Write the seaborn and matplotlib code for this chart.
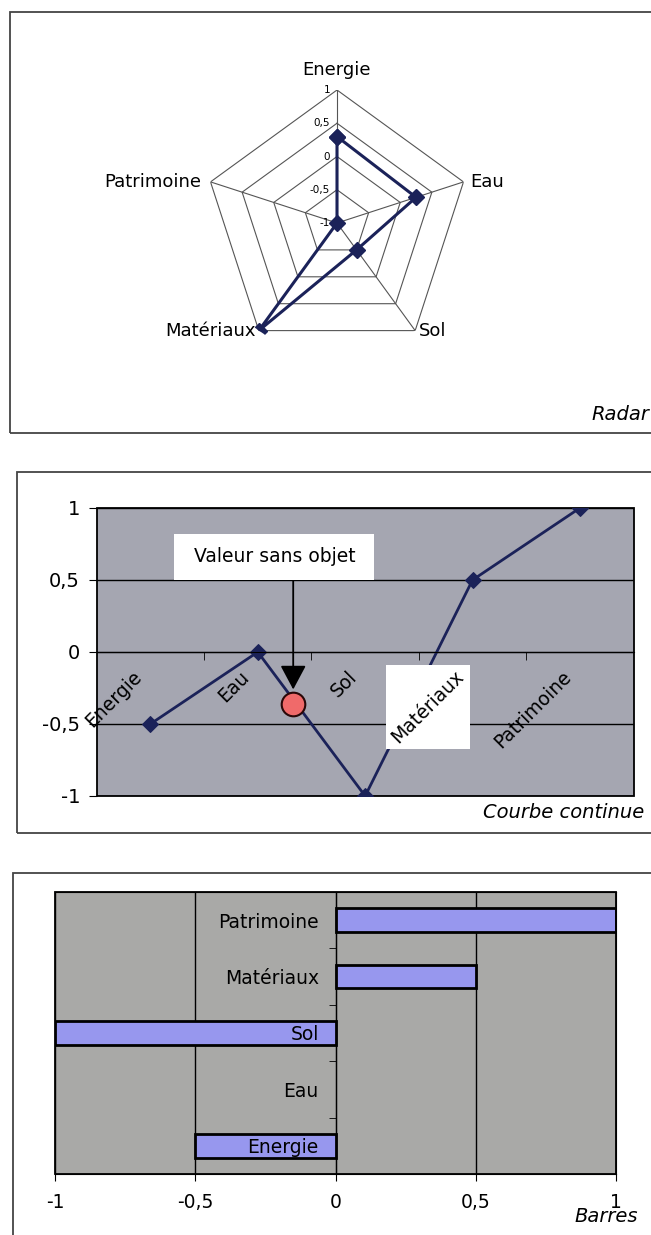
import numpy as np
import pandas as pd
import seaborn as sns
import matplotlib.pyplot as plt
from matplotlib.patches import Rectangle

# données
categories = ['Energie', 'Eau', 'Sol', 'Matériaux', 'Patrimoine']
radar_values = [0.3, 0.25, -0.5, 1, -1]
line_values = [-0.5, 0, -1, 0.5, 1]
bar_values = [-0.5, np.nan, -1, 0.5, 1]   # pas de barre pour Eau
value_ticks = [-1, -0.5, 0, 0.5, 1]
value_tick_labels = ['-1', '-0,5', '0', '0,5', '1']
missing_x, missing_y = 1.33, -0.36        # point "Valeur sans objet"

navy = '#1b2259'
W, H = 651, 1235
plt.rcParams['font.family'] = ['DejaVu Sans']
plt.rcParams['axes.axisbelow'] = False


def px_rect(x0, y0, x1, y1):
    return [x0 / W, 1 - y1 / H, (x1 - x0) / W, (y1 - y0) / H]


def frame(x0, y0, x1, y1):
    fig.add_artist(Rectangle((x0 / W, 1 - y1 / H), (x1 - x0) / W, (y1 - y0) / H,
                             transform=fig.transFigure, fill=False, ec='#444444', lw=1.3))


fig = plt.figure(figsize=(W / 100, H / 100), dpi=100)
frame(10, 12, 700, 433)
frame(17, 472, 700, 833)
frame(13, 873, 700, 1300)

# ---- Radar ----
axr = fig.add_axes(px_rect(337 - 133, 223 - 133, 337 + 133, 223 + 133), projection='polar')
axr.set_theta_offset(np.pi / 2)
axr.set_theta_direction(-1)
axr.set_ylim(-1, 1)
angles = np.linspace(0, 2 * np.pi, len(categories), endpoint=False)
closed = np.append(angles, angles[0])
for r in value_ticks[1:]:
    axr.plot(closed, [r] * len(closed), color='#555555', lw=0.8)
for a in angles:
    axr.plot([a, a], [-1, 1], color='#555555', lw=0.8)
axr.plot(closed, radar_values + radar_values[:1], color=navy, lw=2.2, marker='D', ms=8)
axr.set_xticks([])
axr.set_yticks([])
axr.grid(False)
axr.spines['polar'].set_visible(False)
axr.set_facecolor('none')
label_pos = {'Energie': ((0, 8), 'center', 'bottom'), 'Eau': ((5, 0), 'left', 'center'),
             'Sol': ((3, 0), 'left', 'center'), 'Matériaux': ((-2, 0), 'right', 'center'),
             'Patrimoine': ((-7, 0), 'right', 'center')}
for a, c in zip(angles, categories):
    off, ha, va = label_pos[c]
    axr.annotate(c, (a, 1), xytext=off, textcoords='offset points', ha=ha, va=va, fontsize=13)
for v, lab in zip(value_ticks, value_tick_labels):
    axr.annotate(lab, (0, v), xytext=(-5, 0), textcoords='offset points',
                 ha='right', va='center', fontsize=7.5)
fig.text(649 / W, 1 - 415 / H, 'Radar', ha='right', va='center', fontsize=14, style='italic')

# ---- Courbe continue ----
ax2 = fig.add_axes(px_rect(96.7, 508, 633.6, 796))
ax2.spines['bottom'].set_position(('data', 0))
df_line = pd.DataFrame({'Theme': categories, 'Valeur': line_values})
sns.lineplot(data=df_line, x='Theme', y='Valeur', sort=False, color=navy, lw=2,
             marker='D', ms=8, mec=navy, ax=ax2, zorder=2)
ax2.set_xlim(-0.5, 4.5)
ax2.set_ylim(-1, 1)
ax2.set_facecolor('#a5a6b1')
ax2.set_xlabel('')
ax2.set_ylabel('')
for v in value_ticks:
    ax2.axhline(v, color='black', lw=1, zorder=0.5)
ax2.set_yticks(value_ticks, value_tick_labels)
ax2.tick_params(axis='y', length=6, pad=6, labelsize=14)
ax2.set_xticks(range(len(categories)), [''] * len(categories))
ax2.set_xticks(np.arange(0.5, len(categories) - 1), minor=True)
ax2.tick_params(axis='x', which='major', length=0)
ax2.tick_params(axis='x', which='minor', length=6, direction='out')
for s in ['top', 'right', 'left']:
    ax2.spines[s].set_visible(False)
ax2.add_patch(Rectangle((0, 0), 1, 1, transform=ax2.transAxes, fill=False, ec='black', lw=1.3, clip_on=False))
cat_labels = []
for i, c in enumerate(categories):
    t = ax2.annotate(c, (i, 0), xytext=(-13, -11), textcoords='offset points', rotation=45,
                     rotation_mode='anchor', ha='right', va='top', fontsize=13.5, zorder=5)
    cat_labels.append(t)
ax2.plot([missing_x], [missing_y], 'o', ms=17, mfc='#f06a6a', mec='#2a0808', mew=1.5, zorder=4)
ax2.annotate('', xy=(missing_x, missing_y + 0.1), xytext=(missing_x, 0.5),
             arrowprops=dict(arrowstyle='-|>,head_length=0.75,head_width=0.4', color='black',
                             lw=1.3, mutation_scale=20, shrinkA=0, shrinkB=0), zorder=5)
ax2.text(1.155, 0.66, ' Valeur sans objet ', ha='center', va='center', fontsize=13.5, zorder=5,
         bbox=dict(boxstyle='square,pad=0.7', fc='white', ec='none'))
fig.text(644 / W, 1 - 813 / H, 'Courbe continue', ha='right', va='center', fontsize=14, style='italic')

# ---- Barres ----
ax3 = fig.add_axes(px_rect(55, 892, 616, 1174))
ax3.spines['left'].set_position(('data', 0))
df_bar = pd.DataFrame({'Theme': categories, 'Valeur': bar_values})
sns.barplot(data=df_bar, x='Valeur', y='Theme', order=categories[::-1], orient='h', width=0.42,
            color='#9797ee', saturation=1, edgecolor='black', linewidth=2, errorbar=None, ax=ax3)
ax3.set_xlim(-1, 1)
ax3.set_ylim(len(categories) - 0.5, -0.5)
ax3.set_facecolor('#a9a9a7')
ax3.set_xlabel('')
ax3.set_ylabel('')
for v in value_ticks:
    ax3.axvline(v, color='black', lw=1, zorder=0.5)
ax3.set_xticks(value_ticks, value_tick_labels)
ax3.tick_params(axis='x', length=5, pad=9, labelsize=13.5)
ax3.set_yticks(range(len(categories)), categories[::-1])
ax3.set_yticks(np.arange(0.5, len(categories) - 1), minor=True)
ax3.tick_params(axis='y', which='major', length=0, pad=12, labelsize=13.5)
ax3.tick_params(axis='y', which='minor', length=5, direction='out')
ax3.add_patch(Rectangle((0, 0), 1, 1, transform=ax3.transAxes, fill=False, ec='black', lw=1.3, clip_on=False))
fig.text(638 / W, 1 - 1216 / H, 'Barres', ha='right', va='center', fontsize=14, style='italic')

# boîte blanche derrière "Matériaux"
fig.canvas.draw()
bb = cat_labels[3].get_window_extent()
ax2.add_patch(Rectangle((bb.x0 - 2, bb.y0 - 2), bb.width + 4, bb.height + 4, transform=None,
                        fc='white', ec='none', zorder=3, clip_on=False))

fig.savefig('out.png', dpi=100, facecolor='white')
